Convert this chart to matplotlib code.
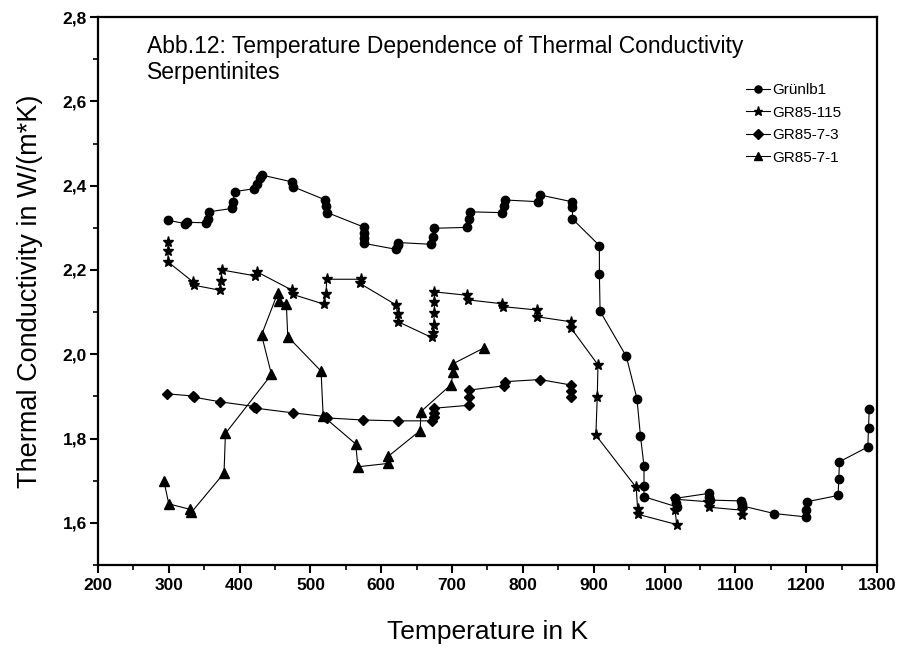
import matplotlib

matplotlib.use("Agg")
import matplotlib.pyplot as plt
from matplotlib.ticker import MultipleLocator, FixedLocator, FixedFormatter

plt.rcParams["font.family"] = ["Liberation Sans", "DejaVu Sans"]

# Grünlb1 (Kreise)
gruen_T = [299, 323, 326, 353, 356, 357, 389, 391, 393, 421, 425, 429, 432,
           474, 476, 520, 522, 524, 575, 575, 575, 576, 621, 623, 624,
           670, 673, 675, 721, 724, 725, 771, 773, 775, 822, 824,
           869, 870, 870, 908, 908, 909, 946, 961, 966, 971, 971, 971,
           1017, 1016, 1015, 1063, 1063, 1064, 1108, 1109, 1110,
           1155, 1200, 1200, 1201, 1245, 1246, 1247, 1287, 1288, 1289]
gruen_k = [2.318, 2.310, 2.313, 2.312, 2.322, 2.338, 2.346, 2.362, 2.386,
           2.393, 2.405, 2.418, 2.425, 2.409, 2.397, 2.367, 2.352, 2.336,
           2.302, 2.287, 2.275, 2.263, 2.249, 2.259, 2.265,
           2.261, 2.279, 2.299, 2.301, 2.320, 2.338, 2.336, 2.352, 2.366,
           2.362, 2.378, 2.362, 2.350, 2.321, 2.258, 2.190, 2.102,
           1.995, 1.895, 1.806, 1.735, 1.687, 1.662,
           1.638, 1.646, 1.658, 1.670, 1.662, 1.654, 1.652, 1.645, 1.640,
           1.622, 1.614, 1.630, 1.650, 1.665, 1.703, 1.745, 1.780, 1.825, 1.870]

# GR85-115 (Sterne)
gr115_T = [299, 299, 299, 334, 335, 372, 374, 375, 422, 424, 474, 475,
           519, 522, 523, 572, 570, 621, 623, 624,
           671, 673, 674, 675, 675, 675, 721, 723, 770, 772, 820, 820,
           868, 868, 906, 905, 903, 960, 962, 963, 1017, 1015, 1015,
           1062, 1063, 1109, 1109]
gr115_k = [2.267, 2.245, 2.219, 2.172, 2.164, 2.152, 2.174, 2.200, 2.186,
           2.196, 2.152, 2.142, 2.119, 2.144, 2.178, 2.178, 2.168,
           2.117, 2.095, 2.077, 2.040, 2.050, 2.069, 2.097, 2.125, 2.148,
           2.140, 2.129, 2.120, 2.113, 2.105, 2.089, 2.077, 2.062,
           1.975, 1.898, 1.808, 1.684, 1.632, 1.620, 1.596, 1.630, 1.656,
           1.650, 1.637, 1.630, 1.619]

# GR85-7-3 (Rauten)
gr73_T = [298, 334, 336, 373, 421, 423, 475, 522, 523, 574, 623,
          672, 674, 675, 675, 724, 724, 724, 773, 775, 824, 868, 868, 868]
gr73_k = [1.906, 1.901, 1.898, 1.887, 1.876, 1.872, 1.861, 1.852, 1.849,
          1.844, 1.842, 1.842, 1.852, 1.861, 1.872, 1.879, 1.898, 1.915,
          1.925, 1.935, 1.940, 1.927, 1.913, 1.899]

# GR85-7-1 (Dreiecke)
gr71_T = [293, 300, 330, 332, 378, 380, 445, 431, 454, 455, 466, 468,
          515, 518, 564, 567, 610, 610, 655, 656, 698, 702, 702, 745]
gr71_k = [1.700, 1.645, 1.632, 1.625, 1.718, 1.812, 1.952, 2.046, 2.146,
          2.127, 2.119, 2.042, 1.960, 1.853, 1.787, 1.733, 1.741, 1.758,
          1.819, 1.864, 1.927, 1.957, 1.978, 2.015]

x_ticks = [200, 300, 400, 500, 600, 700, 800, 900, 1000, 1100, 1200, 1300]
y_ticks = [1.6, 1.8, 2.0, 2.2, 2.4, 2.6, 2.8]
y_ticklabels = ["1,6", "1,8", "2,0", "2,2", "2,4", "2,6", "2,8"]

fig = plt.figure(figsize=(9.02, 6.53), dpi=100)
ax = fig.add_axes([0.1086, 0.1348, 0.8637, 0.839])

line_kw = dict(color="black", lw=0.8, markeredgecolor="black", markerfacecolor="black")
ax.plot(gruen_T, gruen_k, marker="o", ms=6, label="Grünlb1", **line_kw)
ax.plot(gr115_T, gr115_k, marker="*", ms=8, label="GR85-115", **line_kw)
ax.plot(gr73_T, gr73_k, marker="D", ms=5.5, label="GR85-7-3", **line_kw)
ax.plot(gr71_T, gr71_k, marker="^", ms=6.5, label="GR85-7-1", **line_kw)

ax.set_xlim(200, 1300)
ax.set_ylim(1.5, 2.8)
ax.xaxis.set_major_locator(FixedLocator(x_ticks))
ax.xaxis.set_minor_locator(MultipleLocator(50))
ax.yaxis.set_major_locator(FixedLocator(y_ticks))
ax.yaxis.set_major_formatter(FixedFormatter(y_ticklabels))
ax.yaxis.set_minor_locator(MultipleLocator(0.1))

for s in ax.spines.values():
    s.set_linewidth(1.6)
ax.tick_params(which="major", direction="out", length=6, width=1.5, labelsize=12.5)
ax.tick_params(axis="y", which="major", pad=2)
ax.tick_params(which="minor", direction="out", length=3.5, width=1.2)
for lab in ax.get_xticklabels() + ax.get_yticklabels():
    lab.set_fontweight("bold")

ax.set_xlabel("Temperature in K", fontsize=19, labelpad=19)
ax.set_ylabel("Thermal Conductivity in W/(m*K)", fontsize=19.5, labelpad=14)

ax.text(0.063, 0.968,
        "Abb.12: Temperature Dependence of Thermal Conductivity\nSerpentinites",
        transform=ax.transAxes, ha="left", va="top", fontsize=16.5, linespacing=1.2)

ax.legend(loc="upper left", bbox_to_anchor=(0.822, 0.893), frameon=False,
          handlelength=1.6, handletextpad=0.15, labelspacing=0.55,
          markerscale=0.85, borderpad=0,
          prop={"family": ["Liberation Sans Narrow", "Liberation Sans"], "size": 11})

fig.savefig("out.png", dpi=100)
